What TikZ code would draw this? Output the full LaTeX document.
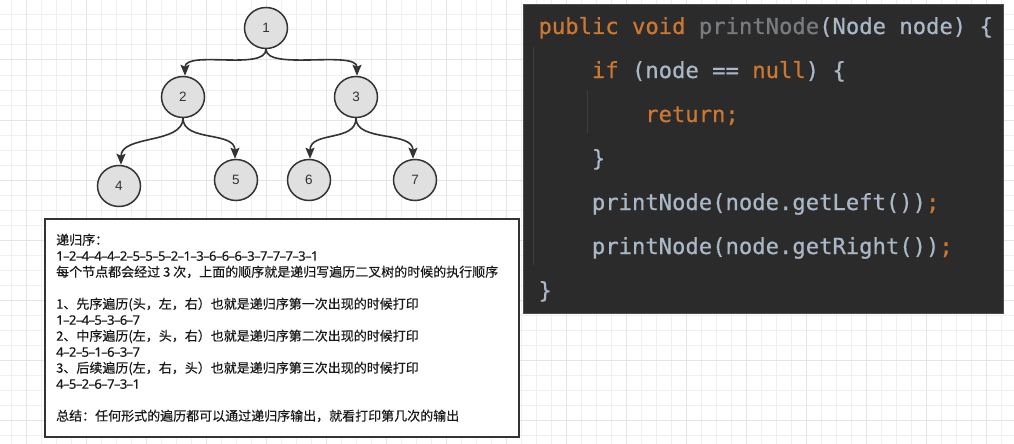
\documentclass[tikz,border=0pt]{standalone}
\usepackage{fontspec}
\setmainfont{Liberation Sans}
\setmonofont[FakeBold=0.6]{DejaVu Sans Mono}
\newfontfamily\cjk[FakeBold=0.3]{Noto Sans CJK SC}
\newfontfamily\lat[FakeBold=0.3]{Noto Sans}
\usetikzlibrary{arrows.meta,shapes.geometric}
\newcommand\dd{\kern-0.6pt–\kern-0.6pt}
\definecolor{gridminor}{HTML}{EFEFEF}
\definecolor{gridmajor}{HTML}{E4E4E4}
\definecolor{nodefill}{HTML}{E0E0E0}
\definecolor{nodeline}{HTML}{333333}
\definecolor{panel}{HTML}{2B2B2B}
\definecolor{kw}{HTML}{CC7832}
\definecolor{fg}{HTML}{A9B7C6}
\definecolor{gr}{HTML}{787B80}
\definecolor{guide}{HTML}{3D3D3D}
\tikzset{
  treenode/.style={ellipse, draw=nodeline, fill=nodefill, line width=1.5pt,
    minimum width=43pt, minimum height=41pt, inner sep=0pt,
    font=\fontsize{13.5}{15}\selectfont, text=nodeline},
  edge/.style={draw=nodeline, line width=1.6pt,
    -{Stealth[length=11pt,width=9pt,inset=2pt]}},
  minorline/.style={draw=gridminor, line width=1pt},
  majorline/.style={draw=gridmajor, line width=1pt},
  codeline/.style={anchor=base west, inner sep=0pt,
    font=\ttfamily\fontsize{22.2}{26}\selectfont, text=fg},
}
\begin{document}
\begin{tikzpicture}[x=1pt,y=-1pt]
\useasboundingbox (0,0) rectangle (1014,444);
\fill[white] (0,0) rectangle (1014,444);
% grid
\foreach \i in {0,...,67} \draw[minorline] ({11.7+15*\i},0) -- ({11.7+15*\i},444);
\foreach \j in {0,...,29} \draw[minorline] (0,{15*\j}) -- (1014,{15*\j});
\foreach \i in {0,...,16} \draw[majorline] ({26.7+60*\i},0) -- ({26.7+60*\i},444);
\foreach \j in {0,...,7} \draw[majorline] (0,{60*\j}) -- (1014,{60*\j});

% tree
\node[treenode] (n1) at (266,28) {1};
\node[treenode] (n2) at (183,97) {2};
\node[treenode] (n3) at (356,97) {3};
\node[treenode] (n4) at (119,186) {4};
\node[treenode] (n5) at (236,180) {5};
\node[treenode] (n6) at (309,180) {6};
\node[treenode] (n7) at (415,180) {7};
\draw[edge] (n1.south) .. controls +(0,22) and +(0,-26) .. ([xshift=2pt]n2.north);
\draw[edge] (n1.south) .. controls +(0,22) and +(0,-26) .. ([xshift=1pt]n3.north);
\draw[edge] (n2.south) .. controls +(0,26) and +(0,-30) .. ([xshift=2pt]n4.north);
\draw[edge] (n2.south) .. controls +(0,24) and +(0,-28) .. ([xshift=-1pt]n5.north);
\draw[edge] (n3.south) .. controls +(0,24) and +(0,-28) .. ([xshift=1pt]n6.north);
\draw[edge] (n3.south) .. controls +(0,24) and +(0,-28) .. ([xshift=-2pt]n7.north);

% text box
\node[draw=nodeline, line width=1.5pt, fill=white, minimum width=474pt,
  minimum height=218pt, inner sep=0pt, anchor=north west] (box) at (44,218) {};
\node[anchor=north west, inner sep=0pt, align=left, text=black!90,
  font=\cjk\fontsize{13}{16}\selectfont] (txt) at (56,233.5) {%
递归序：\\
{\lat 1\dd2\dd4\dd4\dd4\dd2\dd5\dd5\dd5\dd2\dd1\dd3\dd6\dd6\dd6\dd3\dd7\dd7\dd7\dd3\dd1}\\
每个节点都会经过 3 次，上面的顺序就是递归写遍历二叉树的时候的执行顺序\\[16pt]
1、先序遍历(头，左，右）也就是递归序第一次出现的时候打印\\
{\lat 1\dd2\dd4\dd5\dd3\dd6\dd7}\\
2、中序遍历(左，头，右）也就是递归序第二次出现的时候打印\\
{\lat 4\dd2\dd5\dd1\dd6\dd3\dd7}\\
3、后续遍历(左，右，头）也就是递归序第三次出现的时候打印\\
{\lat 4\dd5\dd2\dd6\dd7\dd3\dd1}\\[16pt]
总结：任何形式的遍历都可以通过递归序输出，就看打印第几次的输出};

% code panel
\node[fill=panel, draw=gray!60!black, line width=0.6pt, minimum width=480pt,
  minimum height=309pt, inner sep=0pt, anchor=north west] (panel) at (523,4) {};
\draw[guide, line width=1pt] (533,47) -- (533,265);
\draw[guide, line width=1pt] (587,90) -- (587,133);
\node[codeline] (c1) at (538.3,34) {\textcolor{kw}{public void} \textcolor{gr}{printNode}(Node node) \{};
\node[codeline] (c2) at (591.7,78) {\textcolor{kw}{if} (node == \textcolor{kw}{null}) \{};
\node[codeline] (c3) at (645,122) {\textcolor{kw}{return;}};
\node[codeline] (c4) at (591.7,166) {\}};
\node[codeline] (c5) at (591.7,210) {printNode(node.getLeft())\textcolor{kw}{;}};
\node[codeline] (c6) at (591.7,254) {printNode(node.getRight())\textcolor{kw}{;}};
\node[codeline] (c7) at (538.3,298) {\}};
\end{tikzpicture}
\end{document}
